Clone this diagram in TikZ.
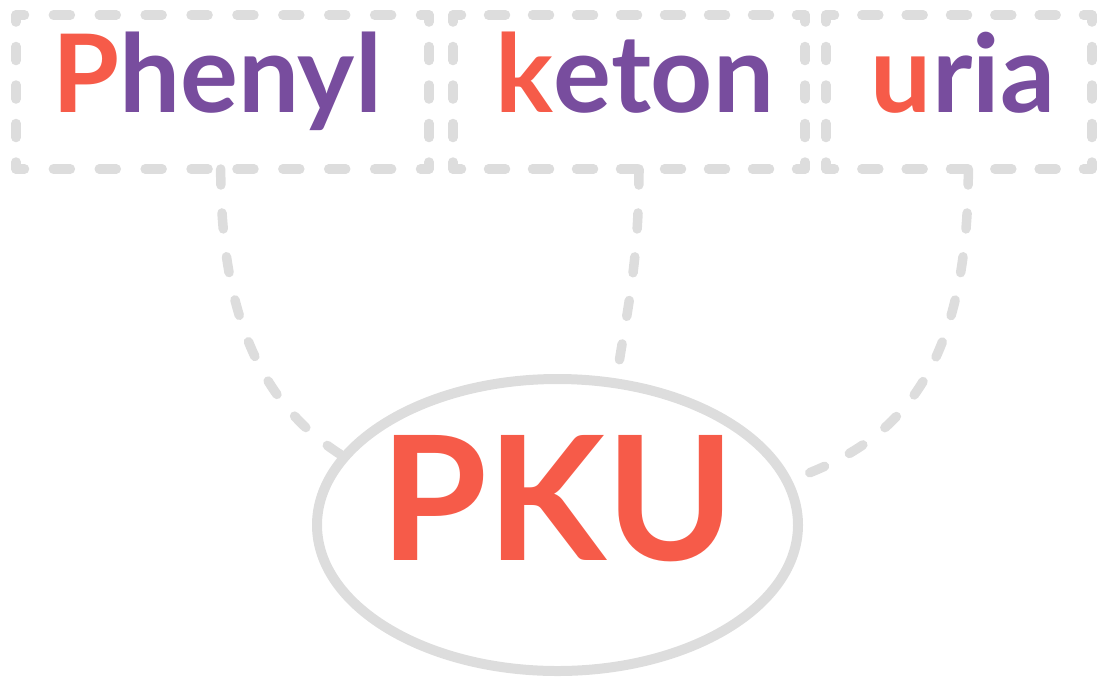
\documentclass[tikz,border=0pt]{standalone}
\usepackage{fontspec}
\setmainfont{Lato}
\usetikzlibrary{shapes.geometric}
\definecolor{pkred}{RGB}{246,91,73}
\definecolor{pkpurple}{RGB}{120,77,158}
\definecolor{pkgray}{RGB}{221,221,221}
\begin{document}
\begin{tikzpicture}[x=1pt,y=-1pt,
  boxnode/.style={rectangle, inner sep=0pt, outer sep=0pt},
  edge/.style={pkgray, line width=9.5pt, line cap=round},
  hA/.style={edge, dash pattern=on 17pt off 28.89pt, dash phase=8.5pt},
  hB/.style={edge, dash pattern=on 17pt off 27pt, dash phase=8.5pt},
  hC/.style={edge, dash pattern=on 17pt off 27.33pt, dash phase=8.5pt},
  vside/.style={edge, dash pattern=on 14pt off 24.5pt, dash phase=7pt},
  word/.style={inner sep=0pt, anchor=base, text=pkpurple,
    font=\fontsize{108.4}{120}\selectfont\bfseries},
  conn/.style={edge, dash pattern=on 16pt off 28pt},
  pkunode/.style={ellipse, draw=pkgray, line width=10pt, inner sep=0pt,
    minimum width=481pt, minimum height=292pt, text=pkred,
    font=\fontsize{173}{180}\selectfont\bfseries}]
\useasboundingbox (0,0) rectangle (1097,678);

% boxes
\node[boxnode, minimum width=413pt, minimum height=154pt] (b1) at (222.5,92) {};
\node[boxnode, minimum width=352pt, minimum height=154pt] (b2) at (629,92) {};
\node[boxnode, minimum width=266pt, minimum height=154pt] (b3) at (959,92) {};

\draw[hA] (b1.north west) -- (b1.north east);
\draw[hA] (b1.south west) -- (b1.south east);
\draw[vside] (b1.north west) -- (b1.south west);
\draw[vside] (b1.north east) -- (b1.south east);

\draw[hB] (b2.north west) -- (b2.north east);
\draw[hB] (b2.south west) -- (b2.south east);
\draw[vside] (b2.north west) -- (b2.south west);
\draw[vside] (b2.north east) -- (b2.south east);

\draw[hC] (b3.north west) -- (b3.north east);
\draw[hC] (b3.south west) -- (b3.south east);
\draw[vside] (b3.north west) -- (b3.south west);
\draw[vside] (b3.north east) -- (b3.south east);

% words
\node[word] (t1) at (217,112) {\textcolor{pkred}{P}henyl};
\node[word] (t2) at (635,112) {\textcolor{pkred}{k}eton};
\node[word] (t3) at (963,112) {\textcolor{pkred}{u}ria};

% ellipse
\node[pkunode] (pku) at (557.5,525) {\makebox[0pt]{\rule[-54pt]{0pt}{1pt}PKU}};

% connectors
\draw[conn] ([xshift=-1.8pt]b1.south) .. controls +(0,161) and +(-70,-45) .. (pku.162);
\draw[conn] ([xshift=10pt]b2.south) .. controls +(0,100) and +(8,-58) .. (pku.68.6);
\draw[conn] ([xshift=9.3pt]b3.south) .. controls +(0,211) and +(100,-35) .. (pku.11);
\end{tikzpicture}
\end{document}
